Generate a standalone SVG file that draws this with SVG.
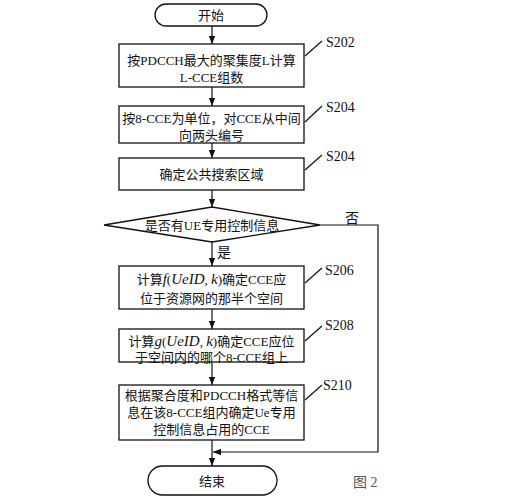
<svg xmlns="http://www.w3.org/2000/svg" width="519" height="500" viewBox="0 0 519 500">
<style>
.b{fill:#fff;stroke:#111;stroke-width:1.3}
.t{font-family:"Liberation Serif","Noto Sans CJK SC",serif;font-size:13px;fill:#111;text-anchor:middle;dominant-baseline:central}
.l{font-family:"Liberation Serif","Noto Sans CJK SC",serif;font-size:14px;fill:#111;dominant-baseline:central}
.m{font-style:italic;font-size:15px}
.c{fill:none;stroke:#111;stroke-width:1.2}
</style>
<defs>
<marker id="a" viewBox="0 0 10 10" refX="10" refY="5" markerWidth="8" markerHeight="8" markerUnits="userSpaceOnUse" orient="auto">
<path d="M0,1 L10,5 L0,9 Z" fill="#111"/>
</marker>
</defs>
<rect width="519" height="500" fill="#fff"/>
<g id="connectors">
<line class="c" x1="212" y1="26" x2="212" y2="44" marker-end="url(#a)"/>
<line class="c" x1="212" y1="87" x2="212" y2="106" marker-end="url(#a)"/>
<line class="c" x1="212" y1="143" x2="212" y2="158" marker-end="url(#a)"/>
<line class="c" x1="212" y1="190" x2="212" y2="207" marker-end="url(#a)"/>
<line class="c" x1="212" y1="242" x2="212" y2="266" marker-end="url(#a)"/>
<line class="c" x1="212" y1="309" x2="212" y2="329" marker-end="url(#a)"/>
<line class="c" x1="212" y1="362" x2="212" y2="385" marker-end="url(#a)"/>
<line class="c" x1="212" y1="440" x2="212" y2="466" marker-end="url(#a)"/>
<polyline class="c" points="320,225 378,225 378,452 213,452" marker-end="url(#a)"/>
<text class="l" x="345" y="218">否</text>
<text class="l" x="217" y="252">是</text>
<line class="c" x1="305" y1="56" x2="322" y2="41"/>
<line class="c" x1="305" y1="122" x2="322" y2="106"/>
<line class="c" x1="305" y1="170" x2="322" y2="155"/>
<line class="c" x1="305" y1="283" x2="322" y2="268"/>
<line class="c" x1="305" y1="341" x2="322" y2="326"/>
<line class="c" x1="305" y1="400" x2="322" y2="385"/>
</g>
<g id="start">
<rect class="b" x="155" y="4" width="112" height="22" rx="11"/>
<text class="t" x="211" y="15">开始</text>
</g>
<g id="S202">
<rect class="b" x="119" y="44" width="185" height="43"/>
<text class="t" x="211.5" y="60">按PDCCH最大的聚集度L计算</text>
<text class="t" x="211.5" y="77">L-CCE组数</text>
<text class="l" x="326" y="42">S202</text>
</g>
<g id="S204a">
<rect class="b" x="119" y="106" width="185" height="37"/>
<text class="t" x="211.5" y="118">按8-CCE为单位，对CCE从中间</text>
<text class="t" x="211.5" y="135">向两头编号</text>
<text class="l" x="326" y="107">S204</text>
</g>
<g id="S204b">
<rect class="b" x="119" y="158" width="185" height="32"/>
<text class="t" x="211.5" y="174">确定公共搜索区域</text>
<text class="l" x="326" y="156">S204</text>
</g>
<g id="decision">
<polygon class="b" points="212,207 320,225 212,242 104,225"/>
<text class="t" x="212" y="225">是否有UE专用控制信息</text>
</g>
<g id="S206">
<rect class="b" x="119" y="266" width="185" height="43"/>
<text class="t" x="211.5" y="279">计算<tspan class="m">f</tspan>(<tspan class="m">UeID</tspan>, <tspan class="m">k</tspan>)确定CCE应</text>
<text class="t" x="211.5" y="298">位于资源网的那半个空间</text>
<text class="l" x="325" y="270">S206</text>
</g>
<g id="S208">
<rect class="b" x="119" y="329" width="185" height="33"/>
<text class="t" x="211.5" y="341">计算<tspan class="m">g</tspan>(<tspan class="m">UeID</tspan>, <tspan class="m">k</tspan>)确定CCE应位</text>
<text class="t" x="211.5" y="357">于空间内的哪个8-CCE组上</text>
<text class="l" x="325" y="325">S208</text>
</g>
<g id="S210">
<rect class="b" x="119" y="385" width="185" height="55"/>
<text class="t" x="211.5" y="395">根据聚合度和PDCCH格式等信</text>
<text class="t" x="211.5" y="412">息在该8-CCE组内确定Ue专用</text>
<text class="t" x="211.5" y="429">控制信息占用的CCE</text>
<text class="l" x="323" y="385">S210</text>
</g>
<g id="end">
<rect class="b" x="148" y="466" width="129" height="29" rx="14.5"/>
<text class="t" x="212" y="481">结束</text>
</g>
<text class="l" x="353" y="482" style="fill:#555">图 2</text>
</svg>
